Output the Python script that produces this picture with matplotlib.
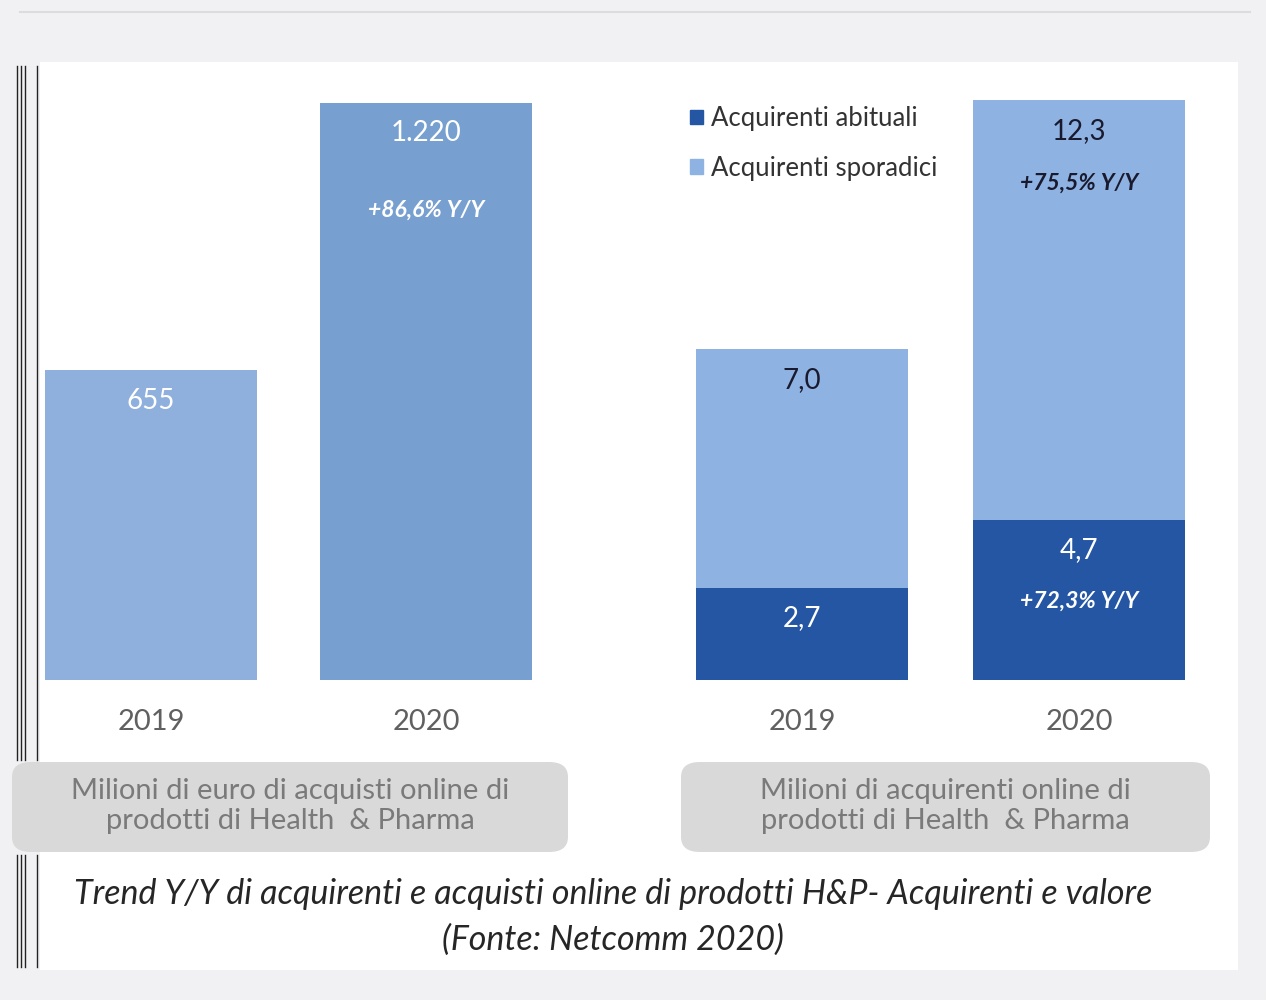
import matplotlib.pyplot as plt
from matplotlib.patches import Rectangle, FancyBboxPatch, Patch
from matplotlib.lines import Line2D

plt.rcParams['font.family'] = ['Lato', 'DejaVu Sans']

# data
years = ["2019", "2020"]
spesa = [655, 1220]
spesa_labels = ["655", "1.220"]
abituali = [2.7, 4.7]
sporadici = [7.0, 12.3]
abituali_labels = ["2,7", "4,7"]
sporadici_labels = ["7,0", "12,3"]
growth_spesa = "+86,6% Y/Y"
growth_abituali = "+72,3% Y/Y"
growth_sporadici = "+75,5% Y/Y"
legend_labels = ["Acquirenti abituali", "Acquirenti sporadici"]
box_left = "Milioni di euro di acquisti online di\nprodotti di Health  & Pharma"
box_right = "Milioni di acquirenti online di\nprodotti di Health  & Pharma"
caption = "Trend Y/Y di acquirenti e acquisti online di prodotti H&P- Acquirenti e valore\n(Fonte: Netcomm 2020)"

W, H = 1266, 1000
fig = plt.figure(figsize=(W/100, H/100), dpi=100, facecolor="#f1f1f3")

def px(x, y):
    return x / W, 1 - y / H

# white panel + frame artifacts
fig.patches.append(Rectangle(px(40, 970), 1198/W, 908/H, transform=fig.transFigure,
                             facecolor="white", edgecolor="none", zorder=-5))
fig.add_artist(Line2D([20/W, 1250/W], [1-12/H]*2, color="#dcdcdc", lw=1.5))
for xv in [17, 21, 25, 37]:
    for y0, y1 in [(66, 760), (855, 967)]:
        fig.add_artist(Line2D([xv/W]*2, [1-y0/H, 1-y1/H], color="#222222", lw=1))

c_left = ["#8fb0dc", "#779fcf"]
c_abit = "#2556a3"
c_spor = "#8eb3e3"
dark = "#1a1a2e"

# left panel
ax1 = fig.add_axes([13.5/W, 0.32, 550/W, 0.62])
ax1.bar([0, 1], spesa, width=0.77, color=c_left)
ax1.set_ylim(0, 620/0.473)
for i, (v, lab) in enumerate(zip(spesa, spesa_labels)):
    ax1.annotate(lab, (i, v), xytext=(0, -22), textcoords="offset points",
                 ha="center", va="center", color="white", fontsize=20)
ax1.annotate(growth_spesa, (1, spesa[1]), xytext=(0, -77), textcoords="offset points",
             ha="center", va="center", color="white", fontsize=16.5, style="italic",
             fontweight="bold")

# right panel
ax2 = fig.add_axes([663.5/W, 0.32, 554/W, 0.62])
ax2.bar([0, 1], abituali, width=0.765, color=c_abit)
ax2.bar([0, 1], sporadici, bottom=abituali, width=0.765, color=c_spor)
ax2.set_ylim(0, 620/34.1)
for i in range(2):
    top = abituali[i] + sporadici[i]
    ax2.annotate(sporadici_labels[i], (i, top), xytext=(0, -22), textcoords="offset points",
                 ha="center", va="center", color=dark, fontsize=20)
    ax2.annotate(abituali_labels[i], (i, abituali[i]), xytext=(0, -22), textcoords="offset points",
                 ha="center", va="center", color="white", fontsize=20)
ax2.annotate(growth_sporadici, (1, abituali[1] + sporadici[1]), xytext=(0, -60),
             textcoords="offset points", ha="center", va="center", color=dark,
             fontsize=16.5, style="italic", fontweight="bold")
ax2.annotate(growth_abituali, (1, abituali[1]), xytext=(0, -59),
             textcoords="offset points", ha="center", va="center", color="white",
             fontsize=16.5, style="italic", fontweight="bold")

for ax in (ax1, ax2):
    ax.set_xlim(-0.5, 1.5)
    ax.set_xticks([0, 1], years)
    ax.tick_params(axis="x", length=0, pad=21, labelsize=21, labelcolor="#606060")
    ax.set_yticks([])
    ax.patch.set_alpha(0)
    for s in ax.spines.values():
        s.set_visible(False)

fig.legend(handles=[Patch(color=c_abit), Patch(color=c_spor)], labels=legend_labels,
           loc="upper left", bbox_to_anchor=px(667, 83), frameon=False, fontsize=18.5,
           handlelength=0.5, handleheight=0.5, handletextpad=0.3, labelspacing=0.95,
           labelcolor="#333333")

# grey label boxes
for x0, x1, txt in [(12, 568, box_left), (681, 1210, box_right)]:
    bx, by = px(x0, 852)
    fig.patches.append(FancyBboxPatch((bx, by), (x1-x0)/W, 90/H, transform=fig.transFigure,
                                      boxstyle="round,pad=0,rounding_size=0.015",
                                      facecolor="#d9d9d9", edgecolor="none"))
    fig.text(*px((x0+x1)/2, 806), txt, ha="center", va="center", fontsize=21,
             color="#7a7a7a", linespacing=1.2)

fig.text(*px(613, 917), caption, ha="center", va="center", fontsize=24.5, style="italic",
         color="#262626", linespacing=1.55)

fig.savefig("out.png", dpi=100, facecolor=fig.get_facecolor())
